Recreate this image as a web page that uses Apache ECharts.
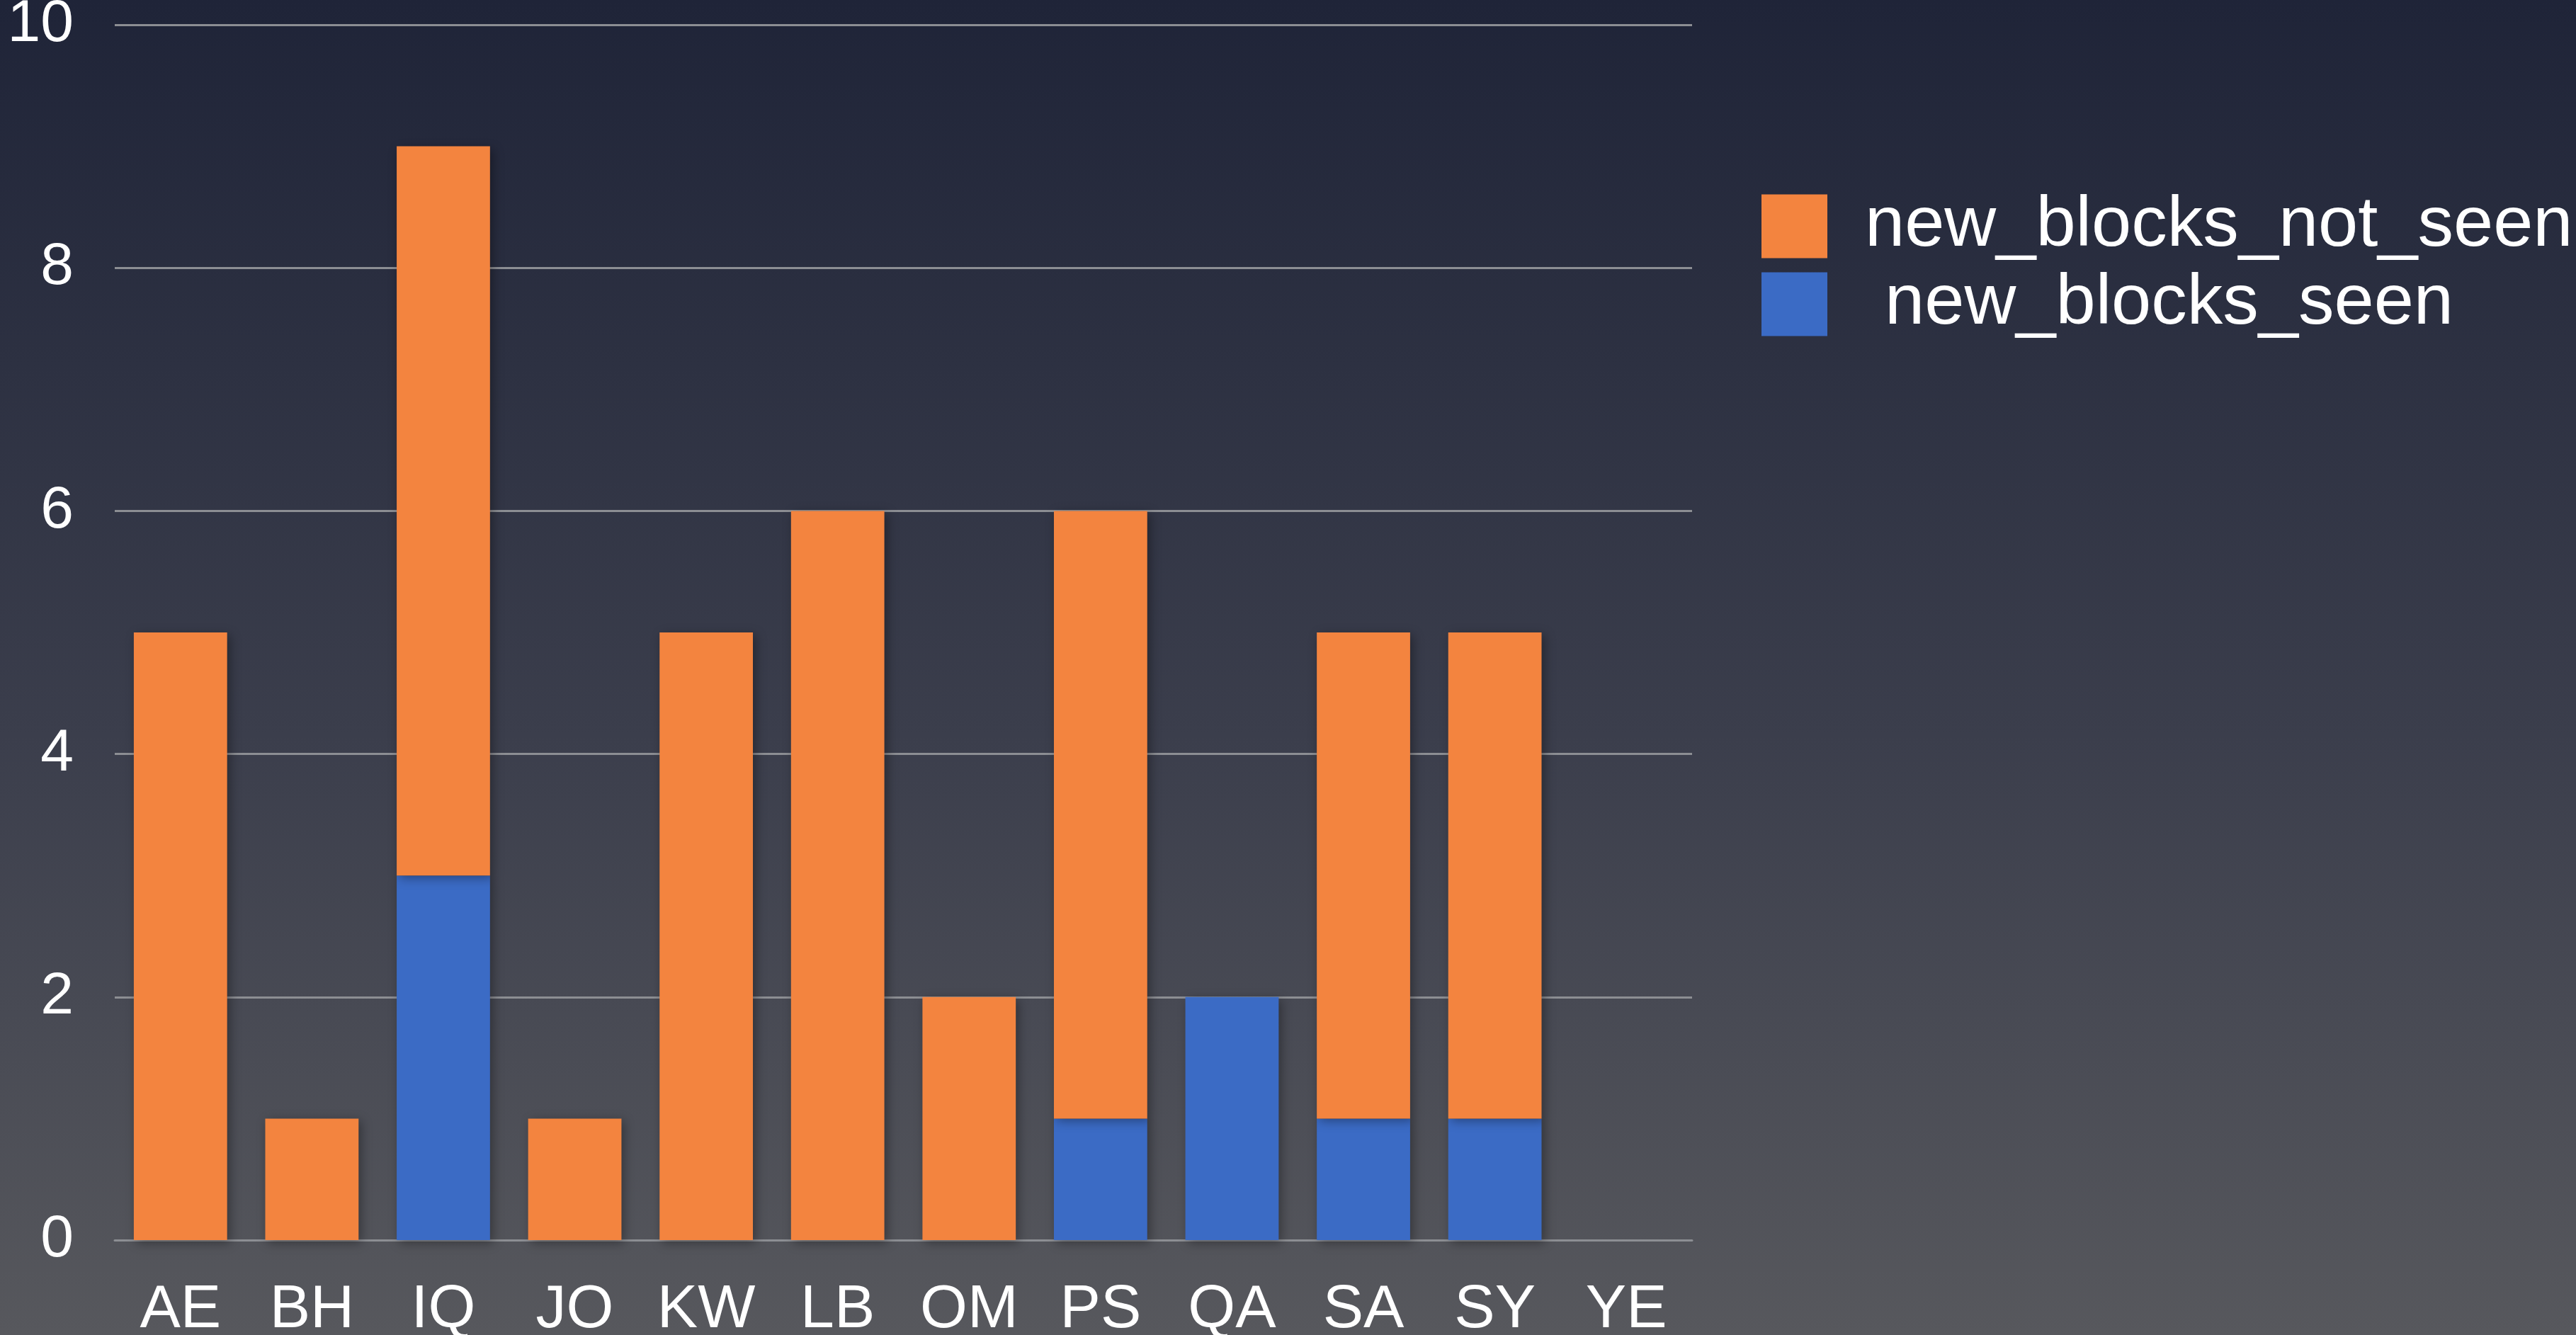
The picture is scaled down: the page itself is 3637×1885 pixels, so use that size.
<!DOCTYPE html>
<html>
<head>
<meta charset="utf-8">
<script src="https://cdn.jsdelivr.net/npm/echarts@6/dist/echarts.min.js"></script>
<style>
  html, body { margin: 0; padding: 0; }
  #chart {
    width: 3637px;
    height: 1885px;
    background: linear-gradient(to bottom, #1f2438 0%, #3b3e4c 55%, #57585d 100%);
  }
</style>
</head>
<body>
<div id="chart"></div>
<script>
var countries = ['AE', 'BH', 'IQ', 'JO', 'KW', 'LB', 'OM', 'PS', 'QA', 'SA', 'SY', 'YE'];
var blocksSeen = [0, 0, 3, 0, 0, 0, 0, 1, 2, 1, 1, 0];
var blocksNotSeen = [5, 1, 6, 1, 5, 6, 2, 5, 0, 4, 4, 0];
var yTicks = [0, 2, 4, 6, 8, 10];

var barShadow = {
  shadowBlur: 14,
  shadowColor: 'rgba(0, 0, 0, 0.35)',
  shadowOffsetX: 4,
  shadowOffsetY: 4
};

var chart = echarts.init(document.getElementById('chart'));
chart.setOption({
  backgroundColor: 'transparent',
  animation: false,
  textStyle: { fontFamily: 'Liberation Sans, Arial, sans-serif' },
  grid: {
    left: 162, right: 1248, top: 35, bottom: 134,
    containLabel: false,
    outerBoundsMode: 'none'
  },
  legend: {
    orient: 'vertical',
    left: 2482,
    top: 264,
    itemWidth: 93,
    itemHeight: 90,
    itemGap: 9,
    icon: 'rect',
    data: ['new_blocks_not_seen', ' new_blocks_seen'],
    textStyle: { color: '#ffffff', fontSize: 101, lineHeight: 90, padding: [0, 0, 0, 48] }
  },
  xAxis: {
    type: 'category',
    data: countries,
    axisLine: { lineStyle: { color: '#8c8e93', width: 3 } },
    axisTick: { show: false },
    axisLabel: { color: '#ffffff', fontSize: 86, margin: 56 }
  },
  yAxis: {
    type: 'value',
    min: yTicks[0],
    max: yTicks[yTicks.length - 1],
    interval: 2,
    axisLine: { show: false },
    axisTick: { show: false },
    axisLabel: { color: '#ffffff', fontSize: 84, margin: 58 },
    splitLine: { lineStyle: { color: '#8c8e93', width: 3 } }
  },
  series: [
    {
      name: ' new_blocks_seen',
      type: 'bar',
      stack: 'blocks',
      barWidth: '71%',
      itemStyle: Object.assign({ color: '#3b6bc5' }, barShadow),
      data: blocksSeen
    },
    {
      name: 'new_blocks_not_seen',
      type: 'bar',
      stack: 'blocks',
      barWidth: '71%',
      itemStyle: Object.assign({ color: '#f3843f' }, barShadow),
      data: blocksNotSeen
    }
  ]
});
</script>
</body>
</html>
